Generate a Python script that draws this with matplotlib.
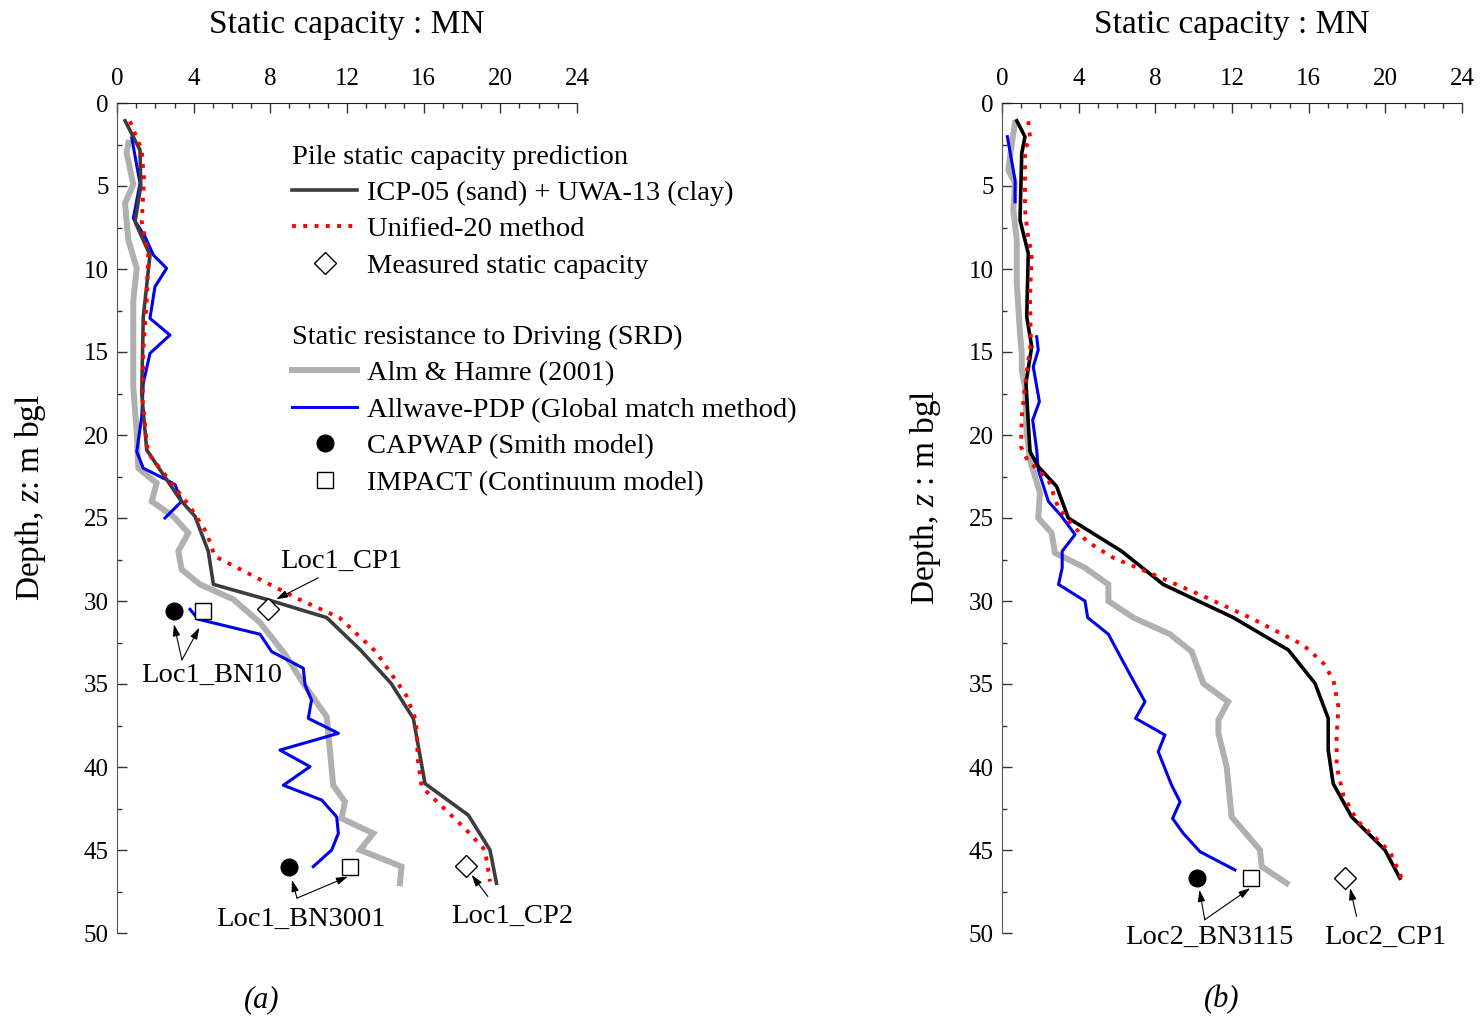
import matplotlib
matplotlib.use('Agg')
import matplotlib.pyplot as plt
from matplotlib.lines import Line2D
from matplotlib.ticker import MultipleLocator

plt.rcParams['font.family'] = ['Liberation Serif', 'DejaVu Serif']
plt.rcParams['mathtext.fontset'] = 'custom'
plt.rcParams['mathtext.it'] = 'Liberation Serif:italic'
plt.rcParams['mathtext.rm'] = 'Liberation Serif'

# --- Loc1 (a) ---
icp1_q = [0.42, 1.2, 1.24, 0.94, 1.72, 1.37, 1.29, 1.55, 3.3, 4.07, 4.76, 5.03, 7.8, 10.94,
          12.7, 14.3, 15.46, 16.07, 18.33, 19.46, 19.8]
icp1_z = [1.07, 2.83, 5.0, 7.15, 9.16, 12.9, 17.5, 20.9, 23.9, 24.9, 27.0, 29.0, 29.9, 31.0,
          32.95, 34.96, 37.07, 41.0, 42.9, 45.0, 47.0]
uni1_q = [0.68, 1.29, 1.41, 1.29, 1.63, 1.55, 1.37, 1.34, 1.5, 1.63, 3.8, 4.68, 5.1, 7.46,
          9.5, 11.6, 13.5, 15.1, 15.6, 15.7, 15.9, 18.15, 19.2, 19.46]
uni1_z = [1.1, 2.83, 4.6, 7.15, 9.06, 11.9, 14.9, 17.9, 19.9, 21.1, 24.3, 25.9, 27.3, 28.7,
          29.9, 31.0, 33.05, 35.7, 37.2, 39.6, 41.2, 43.7, 45.0, 46.9]
alm1_q = [0.6, 0.5, 0.85, 0.42, 0.59, 1.03, 0.85, 0.85, 1.03, 1.11, 2.07, 1.81, 2.94, 3.72,
          3.2, 3.37, 4.33, 6.07, 7.46, 8.76, 9.72, 10.94, 11.28, 11.89, 11.72, 13.37, 12.68,
          14.85, 14.76]
alm1_z = [2.4, 3.0, 4.9, 6.04, 8.25, 9.96, 11.9, 17.1, 19.9, 22.0, 22.9, 24.0, 24.9, 25.9,
          27.0, 28.1, 29.0, 29.9, 31.3, 33.2, 34.96, 36.97, 41.1, 42.1, 43.1, 44.0, 45.0,
          46.0, 47.0]
pdp1a_q = [0.77, 1.2, 0.85, 1.46, 1.9, 2.59, 1.98, 1.72, 2.76, 1.72, 1.37, 1.29, 1.03, 1.37,
           2.59, 3.03, 3.37, 2.5]
pdp1a_z = [2.1, 4.84, 6.95, 8.05, 9.16, 9.96, 11.07, 12.97, 13.98, 15.08, 16.9, 18.9, 21.0,
           22.0, 22.7, 23.0, 24.0, 25.0]
pdp1b_q = [3.81, 4.24, 7.46, 8.07, 9.72, 9.81, 10.15, 9.98, 11.55, 8.5, 10.07, 8.68, 10.68,
           11.46, 11.55, 11.2, 10.24]
pdp1b_z = [30.5, 31.1, 32.0, 33.05, 34.05, 35.06, 35.96, 37.07, 37.97, 38.98, 39.98, 41.1,
           41.99, 43.0, 44.0, 45.0, 46.0]
capwap1_q = [2.97, 8.97]
capwap1_z = [30.6, 46.0]
impact1_q = [4.47, 12.15]
impact1_z = [30.6, 46.0]
meas1_q = [7.9, 18.19]
meas1_z = [30.5, 45.95]

# --- Loc2 (b) ---
icp2_q = [0.77, 1.2, 1.03, 0.94, 1.37, 1.29, 1.55, 1.25, 1.46, 1.89, 2.85, 3.46, 6.24, 8.41,
          12.07, 14.94, 16.33, 17.02, 17.02, 17.28, 18.24, 19.98, 20.76]
icp2_z = [1.07, 2.03, 3.03, 7.05, 9.06, 12.87, 14.68, 16.89, 21.0, 21.9, 23.1, 25.0, 27.0,
          29.0, 31.0, 32.95, 34.96, 37.07, 38.98, 41.0, 43.0, 45.0, 46.7]
uni2_q = [1.37, 1.46, 1.2, 1.2, 1.2, 1.37, 1.55, 1.46, 1.51, 1.29, 1.03, 0.99, 1.32, 2.42,
          2.94, 4.42, 5.81, 7.89, 10.68, 12.94, 15.72, 16.77, 17.29, 17.55, 17.46, 17.46,
          17.81, 18.5, 20.24, 20.85]
uni2_z = [1.1, 2.03, 2.83, 4.64, 6.45, 8.15, 9.06, 11.87, 14.48, 16.19, 18.9, 20.7, 21.5,
          22.7, 24.4, 26.4, 27.4, 28.4, 29.8, 31.0, 32.65, 33.75, 34.76, 36.37, 38.17, 39.98,
          41.7, 43.2, 45.1, 46.7]
alm2_q = [0.68, 0.51, 0.33, 0.68, 0.59, 0.77, 0.77, 0.94, 1.03, 1.03, 1.2, 1.29, 1.46, 1.98,
          1.89, 2.59, 2.76, 4.33, 5.55, 5.55, 6.85, 8.76, 9.9, 10.5, 11.8, 11.29, 11.29,
          11.72, 11.98, 13.46, 13.55, 14.85]
alm2_z = [1.22, 2.43, 4.04, 4.84, 6.45, 8.25, 10.86, 13.87, 15.08, 16.08, 17.09, 19.9, 21.5,
          23.5, 25.0, 25.9, 27.1, 28.0, 29.0, 30.0, 31.0, 32.0, 33.05, 34.96, 36.07, 37.17,
          37.97, 39.98, 43.0, 45.0, 46.0, 47.0]
pdp2a_q = [0.28, 0.68, 0.68]
pdp2a_z = [2.03, 4.64, 5.95]
pdp2b_q = [1.81, 1.89, 1.63, 1.95, 1.6, 1.81, 1.89, 2.42, 3.11, 3.81, 3.14, 3.14, 2.95, 4.33,
           4.47, 5.55, 6.5, 7.46, 6.97, 8.5, 8.15, 8.85, 9.29, 8.9, 9.46, 10.33, 12.15]
pdp2b_z = [14.08, 14.88, 15.89, 17.99, 19.1, 20.9, 22.1, 24.0, 24.9, 26.0, 27.0, 28.0, 29.0,
           30.0, 31.0, 32.0, 34.05, 36.07, 37.07, 38.07, 39.08, 41.1, 42.1, 43.1, 44.0, 45.1,
           46.2]
capwap2_q = [10.19]
capwap2_z = [46.7]
impact2_q = [12.99]
impact2_z = [46.7]
meas2_q = [17.9]
meas2_z = [46.7]

GRIS = '#b0b0b0'
AZUL = '#0000ee'
ROJO = '#ff0000'
FS = 20.5      # leyenda y anotaciones
FS_EJE = 24    # titulos de ejes


def preparar_eje(ax, ylabel, ylab_x):
    ax.set_xlim(0, 24)
    ax.set_ylim(50, 0)
    ax.xaxis.set_ticks_position('top')
    ax.xaxis.set_major_locator(MultipleLocator(4))
    ax.xaxis.set_minor_locator(MultipleLocator(1))
    ax.yaxis.set_major_locator(MultipleLocator(5))
    ax.yaxis.set_minor_locator(MultipleLocator(2.5))
    ax.tick_params(which='both', direction='in', labelsize=18, color='#333333')
    ax.tick_params(which='major', length=7, width=1)
    ax.tick_params(which='minor', length=3.5, width=1)
    ax.tick_params(axis='x', pad=9.5)
    ax.tick_params(axis='y', pad=6)
    ax.spines['right'].set_visible(False)
    ax.spines['bottom'].set_visible(False)
    ax.spines['left'].set_color('#555555')
    ax.spines['top'].set_color('#222222')
    ax.text(0.5, 1 + 78 / 830, 'Static capacity : MN', transform=ax.transAxes,
            fontsize=FS_EJE, ha='center', va='center')
    ax.text(ylab_x, 0.525, ylabel, transform=ax.transAxes, rotation=90,
            fontsize=FS_EJE, ha='center', va='center')
    ax.patch.set_alpha(0)


def dibujar(ax, alm, pdps, icp, uni, icp_color, cap, imp, meas):
    ax.plot(alm[0], alm[1], color=GRIS, lw=4.3, solid_joinstyle='miter', clip_on=False)
    for q, z in pdps:
        ax.plot(q, z, color=AZUL, lw=2.2, clip_on=False)
    ax.plot(icp[0], icp[1], color=icp_color, lw=2.6, clip_on=False)
    ax.plot(uni[0], uni[1], color=ROJO, lw=2.8, linestyle=(0, (1, 1.9)), clip_on=False)
    ax.plot(cap[0], cap[1], 'o', color='black', ms=12, clip_on=False)
    ax.plot(imp[0], imp[1], 's', mfc='white', mec='black', ms=11, mew=1, clip_on=False)
    ax.plot(meas[0], meas[1], 'D', mfc='white', mec='black', ms=11, mew=1, clip_on=False)


def anotar(ax, texto, pos_texto, cola, cabezas):
    ax.text(pos_texto[0], pos_texto[1], texto, fontsize=FS, ha='center', va='center')
    for cab in cabezas:
        ax.annotate('', xy=cab, xytext=cola,
                    arrowprops=dict(arrowstyle='-|>,head_length=0.7,head_width=0.22',
                                    color='black', lw=0.8, shrinkA=0, shrinkB=0))


fig = plt.figure(figsize=(14.8, 10.18), dpi=100)
ax1 = fig.add_axes([117 / 1480, 1 - 933 / 1018, 460 / 1480, 830 / 1018])
ax2 = fig.add_axes([1002 / 1480, 1 - 933 / 1018, 460 / 1480, 830 / 1018])

preparar_eje(ax1, 'Depth, $z$: m bgl', -0.189)
preparar_eje(ax2, 'Depth, $z$ : m bgl', -0.167)

dibujar(ax1, (alm1_q, alm1_z), [(pdp1a_q, pdp1a_z), (pdp1b_q, pdp1b_z)],
        (icp1_q, icp1_z), (uni1_q, uni1_z), '#3c3c3c',
        (capwap1_q, capwap1_z), (impact1_q, impact1_z), (meas1_q, meas1_z))
dibujar(ax2, (alm2_q, alm2_z), [(pdp2a_q, pdp2a_z), (pdp2b_q, pdp2b_z)],
        (icp2_q, icp2_z), (uni2_q, uni2_z), 'black',
        (capwap2_q, capwap2_z), (impact2_q, impact2_z), (meas2_q, meas2_z))

# anotaciones
anotar(ax1, 'Loc1_CP1', (11.7, 27.6), (10.5, 28.6), [(8.3, 29.9)])
anotar(ax1, 'Loc1_BN10', (4.96, 34.5), (3.39, 33.55), [(2.97, 31.4), (4.3, 31.6)])
anotar(ax1, 'Loc1_BN3001', (9.6, 49.2), (9.39, 47.9), [(9.13, 46.8), (12.05, 46.6)])
anotar(ax1, 'Loc1_CP2', (20.6, 49.0), (19.35, 47.8), [(18.5, 46.5)])
anotar(ax2, 'Loc2_BN3115', (10.8, 50.25), (10.58, 49.2), [(10.3, 47.4), (12.95, 47.3)])
anotar(ax2, 'Loc2_CP1', (19.98, 50.25), (18.5, 49.0), [(18.16, 47.3)])

# leyenda
h1 = [Line2D([], [], color='#3c3c3c', lw=2.6),
      Line2D([], [], color=ROJO, lw=2.8, linestyle=(0, (1, 1.9))),
      Line2D([], [], marker='D', ls='none', mfc='white', mec='black', ms=11)]
l1 = ['ICP-05 (sand) + UWA-13 (clay)', 'Unified-20 method', 'Measured static capacity']
h2 = [Line2D([], [], color=GRIS, lw=4.3),
      Line2D([], [], color=AZUL, lw=2.2),
      Line2D([], [], marker='o', ls='none', color='black', ms=12),
      Line2D([], [], marker='s', ls='none', mfc='white', mec='black', ms=11)]
l2 = ['Alm & Hamre (2001)', 'Allwave-PDP (Global match method)',
      'CAPWAP (Smith model)', 'IMPACT (Continuum model)']
kw = dict(frameon=False, fontsize=FS, title_fontsize=FS, alignment='left',
          handlelength=2.3, handletextpad=0.35, labelspacing=0.37, borderpad=0,
          borderaxespad=0, loc='upper left')
leg1 = ax1.legend(h1, l1, title='Pile static capacity prediction',
                  bbox_to_anchor=(0.38, 0.950), **kw)
ax1.add_artist(leg1)
ax1.legend(h2, l2, title='Static resistance to Driving (SRD)',
           bbox_to_anchor=(0.38, 0.733), **kw)

fig.text(262 / 1480, 1 - 1000 / 1018, '(a)', fontsize=22, style='italic', ha='center', va='center')
fig.text(1222 / 1480, 1 - 1000 / 1018, '(b)', fontsize=22, style='italic', ha='center', va='center')

fig.savefig('out.png', dpi=100)
